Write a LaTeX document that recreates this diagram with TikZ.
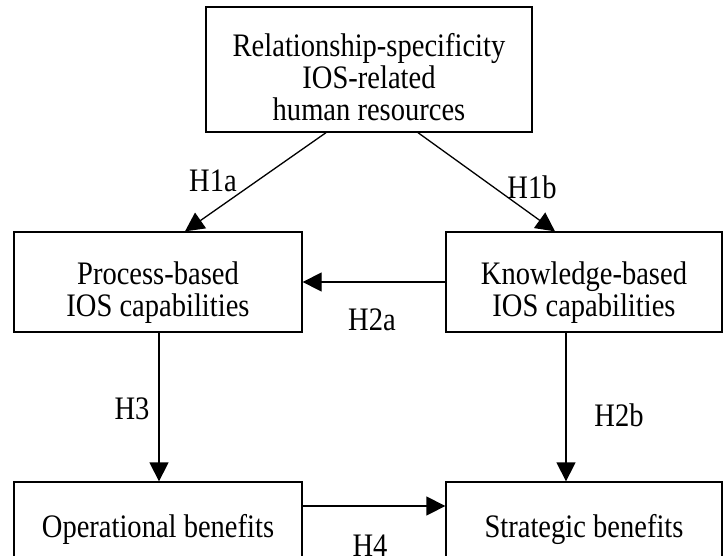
\documentclass[tikz,border=0pt]{standalone}
\usepackage{fontspec}
\setmainfont{Liberation Serif}
\newfontfamily\tallserif[FakeStretch=0.87]{Liberation Serif}
\usetikzlibrary{arrows.meta}
\begin{document}
\begin{tikzpicture}[x=1pt,y=-1pt,
  box/.style={draw, line width=1.3pt, rectangle, inner sep=0pt},
  txt/.style={align=center, font=\tallserif\fontsize{32.8}{32}\selectfont, inner sep=0pt},
  lab/.style={font=\tallserif\fontsize{32.8}{32}\selectfont, inner sep=0pt},
  arr/.style={line width=1.3pt, -{Triangle[length=19pt,width=19pt]}}]
\useasboundingbox (0,0) rectangle (723,555);
\clip (0,0) rectangle (723,555);
% boxes
\node[box, minimum width=326pt, minimum height=125pt] (top) at (369,69.5) {};
\node[box, minimum width=288pt, minimum height=100pt] (pr) at (158,282) {};
\node[box, minimum width=276pt, minimum height=100pt] (kn) at (584,282) {};
\node[box, minimum width=288pt, minimum height=98pt] (op) at (158,531) {};
\node[box, minimum width=276pt, minimum height=98pt] (st) at (584,531) {};
% texts
\node[txt] (topT) at (369,77) {Relationship-specificity\\IOS-related\\human resources};
\node[txt] (prT) at (158,292.5) {Process-based\\IOS capabilities};
\node[txt] (knT) at (584,292.5) {Knowledge-based\\IOS capabilities};
\node[txt] (opT) at (158,529.5) {Operational benefits};
\node[txt] (stT) at (584,529.5) {Strategic benefits};
% connectors
\draw[arr] ([xshift=-43pt]top.south) -- ([xshift=27pt]pr.north);
\draw[arr] ([xshift=49pt]top.south) -- ([xshift=-29pt]kn.north);
\draw[arr] (kn.west) -- (kn.west -| pr.east);
\draw[arr] ([xshift=1pt]pr.south) -- ([xshift=1pt]op.north);
\draw[arr] ([xshift=-18pt]kn.south) -- ([xshift=-18pt]st.north);
\draw[arr] ([yshift=25pt]op.east) -- ([yshift=25pt]op.east -| st.west);
% labels
\node[lab] (l1a) at (213,181) {H1a};
\node[lab] (l1b) at (532,187) {H1b};
\node[lab] (l2a) at (372,320) {H2a};
\node[lab] (l3) at (132,409) {H3};
\node[lab] (l2b) at (619,415) {H2b};
\node[lab] (l4) at (370,546) {H4};
\end{tikzpicture}
\end{document}
